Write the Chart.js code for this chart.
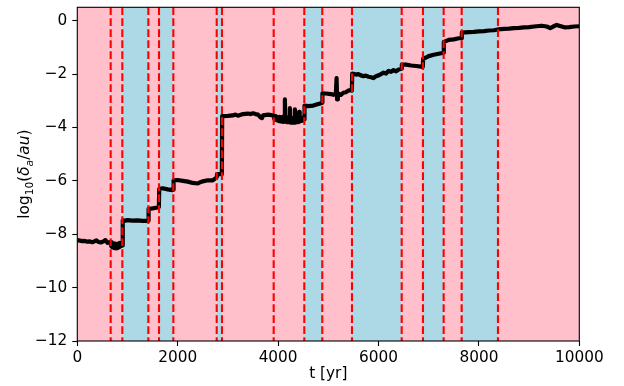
<!DOCTYPE html>
<html>
<head>
<meta charset="utf-8">
<script src="https://cdn.jsdelivr.net/npm/chart.js@4.4.0/dist/chart.umd.min.js"></script>
<style>
  html, body { margin: 0; padding: 0; background: #ffffff; }
  canvas { display: block; }
</style>
</head>
<body>
<canvas id="c" width="624" height="386"></canvas>
<script>
// ---- data ----
const timeYr = [
  0, 50, 100, 150, 200, 250, 300, 350, 380, 420, 470, 520, 560, 600, 640, 665,
  675, 685, 695, 705, 715, 725, 735, 745, 755, 765, 775, 785, 795, 805, 815, 825, 835, 845, 855, 865, 875, 885, 895,
  905, 950, 1000, 1100, 1200, 1300, 1400, 1415,
  1420, 1500, 1600, 1625,
  1632, 1700, 1800, 1900, 1910,
  1918, 2000, 2100, 2200, 2300, 2400, 2450, 2500, 2600, 2700, 2760, 2777,
  2782, 2880,
  2886, 2900, 3000, 3100, 3150, 3200, 3300, 3400, 3450, 3500, 3550, 3600, 3650, 3680, 3700, 3800, 3900, 3912,
  3925, 3940, 3955, 3970, 3985, 4000, 4015, 4030, 4045, 4060, 4075, 4090, 4105, 4120, 4135, 4145, 4160, 4175, 4190, 4205,
  4220, 4235, 4245, 4260, 4275, 4290, 4305, 4320, 4335, 4345, 4360, 4375, 4390, 4405, 4420, 4430, 4445, 4460, 4475, 4490, 4505, 4518,
  4526, 4600, 4700, 4800, 4876,
  4883, 4950, 5050, 5100, 5150, 5165, 5175, 5190, 5250, 5300, 5350, 5400, 5450, 5470,
  5476, 5550, 5600, 5650, 5700, 5750, 5800, 5850, 5900, 5950, 6000, 6050, 6100, 6150, 6200, 6250, 6300, 6350, 6400, 6460,
  6465, 6550, 6650, 6750, 6882,
  6890, 6950, 7000, 7100, 7200, 7295,
  7301, 7400, 7500, 7600, 7655,
  7660, 7800, 7900, 8000, 8100, 8200, 8300, 8380,
  8500, 8600, 8700, 8800, 8900, 9000, 9100, 9200, 9250, 9350, 9420, 9480, 9550, 9600, 9700, 9800, 9900, 10000
];
const logDelta = [
  -8.22, -8.24, -8.26, -8.25, -8.28, -8.27, -8.30, -8.26, -8.23, -8.29, -8.31, -8.27, -8.22, -8.32, -8.30, -8.33,
  -8.45, -8.30, -8.48, -8.33, -8.50, -8.35, -8.52, -8.34, -8.50, -8.36, -8.53, -8.38, -8.52, -8.36, -8.50, -8.34, -8.48, -8.32, -8.45, -8.33, -8.44, -8.35, -8.42,
  -7.48, -7.50, -7.47, -7.49, -7.48, -7.50, -7.49, -7.50,
  -7.05, -7.03, -7.00, -6.98,
  -6.30, -6.28, -6.32, -6.35, -6.33,
  -5.98, -5.97, -6.00, -6.03, -6.08, -6.10, -6.05, -6.02, -5.98, -5.98, -5.90, -5.85,
  -5.75, -5.75,
  -3.58, -3.58, -3.57, -3.55, -3.52, -3.56, -3.50, -3.48, -3.50, -3.47, -3.50, -3.52, -3.62, -3.65, -3.55, -3.52, -3.55, -3.58,
  -3.68, -3.58, -3.72, -3.60, -3.74, -3.62, -3.76, -3.60, -3.77, -3.62, -3.78, -3.60, -3.79, -3.62, -2.95, -3.78, -3.62, -3.80, -3.64, -3.80,
  -3.62, -3.28, -3.82, -3.64, -3.82, -3.65, -3.82, -3.64, -3.32, -3.82, -3.66, -3.80, -3.65, -3.80, -3.42, -3.78, -3.66, -3.76, -3.64, -3.74, -3.66, -3.70,
  -3.18, -3.20, -3.18, -3.12, -3.08,
  -2.72, -2.73, -2.75, -2.78, -2.75, -2.15, -2.95, -2.72, -2.78, -2.70, -2.68, -2.62, -2.60, -2.62,
  -1.98, -2.02, -2.00, -2.05, -2.08, -2.06, -2.10, -2.12, -2.15, -2.08, -2.05, -2.00, -1.95, -1.98, -1.88, -1.92, -1.85, -1.90, -1.83, -1.80,
  -1.65, -1.65, -1.68, -1.70, -1.73,
  -1.42, -1.38, -1.33, -1.28, -1.24, -1.20,
  -0.80, -0.72, -0.70, -0.66, -0.66,
  -0.45, -0.43, -0.42, -0.40, -0.39, -0.37, -0.36, -0.33,
  -0.31, -0.30, -0.28, -0.27, -0.25, -0.24, -0.22, -0.20, -0.19, -0.22, -0.28, -0.22, -0.16, -0.19, -0.25, -0.24, -0.22, -0.21
];
// phase boundaries (yr) and the phase type of each interval between them
const phaseBounds = [0, 665, 897, 1415, 1628, 1913, 2777, 2882, 3912, 4522, 4880, 5472, 6462, 6886, 7298, 7657, 8380, 10000];
const phaseKinds  = ['A','A','B','A','B','A','B','A','A','B','A','B','A','B','A','B','A'];
const dashedTimes = [665, 897, 1415, 1628, 1913, 2777, 2882, 3912, 4522, 4880, 5472, 6462, 6886, 7298, 7657, 8380];
const xTicks = [0, 2000, 4000, 6000, 8000, 10000];
const yTicks = [-12, -10, -8, -6, -4, -2, 0];

// ---- styles ----
const FONT = '"DejaVu Sans", sans-serif';
const FS = 15.3;
const kindColor = { A: '#FFC0CB', B: '#ADD8E6' };

const pts = timeYr.map((t, i) => ({ x: t, y: logDelta[i] }));

const bgPlugin = {
  id: 'bgSpans',
  beforeDatasetsDraw(chart) {
    const { ctx, chartArea: a, scales: { x } } = chart;
    ctx.save();
    for (let i = 0; i < phaseKinds.length; i++) {
      const x0 = x.getPixelForValue(phaseBounds[i]);
      const x1 = x.getPixelForValue(phaseBounds[i + 1]);
      ctx.fillStyle = kindColor[phaseKinds[i]];
      ctx.fillRect(x0, a.top, x1 - x0, a.bottom - a.top);
    }
    ctx.restore();
  },
  afterDatasetsDraw(chart) {
    const { ctx, chartArea: a, scales: { x } } = chart;
    ctx.save();
    ctx.strokeStyle = '#FF0000';
    ctx.lineWidth = 2.1;
    ctx.setLineDash([7.7, 3.3]);
    for (const t of dashedTimes) {
      const px = x.getPixelForValue(t);
      ctx.beginPath();
      ctx.moveTo(px, a.top);
      ctx.lineTo(px, a.bottom);
      ctx.stroke();
    }
    ctx.setLineDash([]);
    // spines
    ctx.strokeStyle = '#000000';
    ctx.lineWidth = 1.1;
    ctx.strokeRect(a.left, a.top, a.right - a.left, a.bottom - a.top);
    ctx.restore();
  },
  afterDraw(chart) {
    const { ctx, chartArea: a } = chart;
    ctx.save();
    ctx.fillStyle = '#000';
    ctx.textBaseline = 'alphabetic';
    // x label
    ctx.font = `${FS}px ${FONT}`;
    ctx.textAlign = 'center';
    ctx.fillText('t [yr]', (a.left + a.right) / 2, 377.5);
    // y label: log10(δa/au)
    const small = FS * 0.7;
    const pieces = [
      ['log', `${FS}px ${FONT}`, 0],
      ['10', `${small}px ${FONT}`, 3.6],
      ['(', `${FS}px ${FONT}`, 0],
      ['δ', `italic ${FS}px ${FONT}`, 0],
      ['a', `italic ${small}px ${FONT}`, 3.6],
      ['/', `${FS}px ${FONT}`, 0],
      ['au', `italic ${FS}px ${FONT}`, 0],
      [')', `${FS}px ${FONT}`, 0]
    ];
    let total = 0;
    const widths = pieces.map(p => { ctx.font = p[1]; const w = ctx.measureText(p[0]).width; total += w; return w; });
    ctx.translate(29, (a.top + a.bottom) / 2);
    ctx.rotate(-Math.PI / 2);
    ctx.textAlign = 'left';
    let cx = -total / 2;
    pieces.forEach((p, i) => {
      ctx.font = p[1];
      ctx.fillText(p[0], cx, p[2]);
      cx += widths[i];
    });
    ctx.restore();
  }
};

new Chart(document.getElementById('c'), {
  type: 'scatter',
  data: {
    datasets: [{
      data: pts,
      showLine: true,
      borderColor: '#000000',
      backgroundColor: '#000000',
      borderWidth: 4.2,
      pointRadius: 0,
      tension: 0,
      borderJoinStyle: 'round'
    }]
  },
  options: {
    responsive: false,
    devicePixelRatio: 1,
    animation: false,
    layout: { padding: { left: 0, right: 44.7, top: 7.3, bottom: 0 } },
    plugins: { legend: { display: false }, tooltip: { enabled: false } },
    scales: {
      x: {
        type: 'linear',
        min: 0, max: 10000,
        afterBuildTicks: s => { s.ticks = xTicks.map(v => ({ value: v })); },
        afterFit: s => { s.height = 45; s.paddingLeft = 0; s.paddingRight = 0; },
        grid: { drawOnChartArea: false, drawTicks: true, tickLength: 5, tickColor: '#000', tickWidth: 1.1 },
        border: { display: false },
        ticks: { color: '#000', font: { family: FONT, size: FS }, padding: 3, maxRotation: 0,
                 callback: v => String(v).replace('-', '\u2212') }
      },
      y: {
        type: 'linear',
        min: -12, max: 0.5,
        afterBuildTicks: s => { s.ticks = yTicks.map(v => ({ value: v })); },
        afterFit: s => { s.width = 77.3; s.paddingTop = 0; s.paddingBottom = 0; },
        grid: { drawOnChartArea: false, drawTicks: true, tickLength: 5, tickColor: '#000', tickWidth: 1.1 },
        border: { display: false },
        ticks: { color: '#000', font: { family: FONT, size: FS }, padding: 5,
                 callback: v => String(v).replace('-', '\u2212') }
      }
    }
  },
  plugins: [bgPlugin]
});
</script>
</body>
</html>
